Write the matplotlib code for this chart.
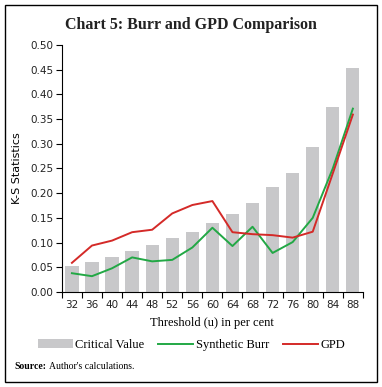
import numpy as np
from matplotlib import pyplot as plt
from matplotlib.patches import Rectangle

# Data
thresholds = [32, 36, 40, 44, 48, 52, 56, 60, 64, 68, 72, 76, 80, 84, 88]
critical = [0.052, 0.061, 0.070, 0.082, 0.096, 0.109, 0.122, 0.140, 0.157,
            0.180, 0.213, 0.241, 0.294, 0.375, 0.453]
burr = [0.038, 0.032, 0.048, 0.070, 0.062, 0.065, 0.090, 0.130, 0.093,
        0.132, 0.079, 0.101, 0.150, 0.250, 0.371]
gpd = [0.059, 0.094, 0.104, 0.121, 0.126, 0.159, 0.176, 0.184, 0.121,
       0.117, 0.115, 0.110, 0.122, 0.240, 0.359]

serif = "Liberation Serif"
sans = "DejaVu Sans"

fig = plt.figure(figsize=(3.82, 3.87), dpi=100)
ax = fig.add_axes([0.162, 0.2455, 0.788, 0.6385])

x = np.arange(len(thresholds))
bars = ax.bar(x, critical, width=0.66, color="#c8c8ca", label="Critical Value", zorder=1)
l1, = ax.plot(x, burr, color="#22a845", lw=1.4, label="Synthetic Burr", zorder=2)
l2, = ax.plot(x, gpd, color="#d42a28", lw=1.4, label="GPD", zorder=3)

ax.set_xlim(-0.5, len(thresholds) - 0.5)
ax.set_ylim(0, 0.5)
ax.set_yticks(np.arange(0, 0.501, 0.05))
ax.set_yticklabels(["%.2f" % v for v in np.arange(0, 0.501, 0.05)],
                   fontsize=7.5, family=sans, color="#222222")
ax.set_xticks(x)
ax.set_xticklabels([str(t) for t in thresholds], fontsize=7.5,
                   family=sans, color="#222222")
ax.tick_params(axis="x", length=0, pad=6)
ax.set_xticks(np.arange(-0.5, len(thresholds), 1), minor=True)
ax.tick_params(axis="x", which="minor", length=4, width=0.8)
ax.tick_params(axis="y", length=4, width=0.8, pad=2)

for s in ["top", "right"]:
    ax.spines[s].set_visible(False)
for s in ["left", "bottom"]:
    ax.spines[s].set_linewidth(0.8)

ax.set_ylabel("K-S Statistics", fontsize=8, family=sans, labelpad=6)
ax.set_xlabel("Threshold (u) in per cent", fontsize=9, family=serif, labelpad=5)

fig.text(0.5, 0.935, "Chart 5: Burr and GPD Comparison", ha="center",
         va="center", fontsize=11.5, family=serif, fontweight="bold",
         color="#222222")

ax.legend([bars, l1, l2], ["Critical Value", "Synthetic Burr", "GPD"],
          loc="upper center", bbox_to_anchor=(0.43, -0.145), ncol=3,
          frameon=False, prop={"family": serif, "size": 9},
          handlelength=2.8, handletextpad=0.2, columnspacing=1.1)

fig.text(0.037, 0.047, "Source:", fontsize=7, family=serif, fontweight="bold")
fig.text(0.037 + 0.09, 0.047, "Author's calculations.", fontsize=7, family=serif)

fig.patches.append(Rectangle((0.013, 0.013), 0.974, 0.974, transform=fig.transFigure,
                             fill=False, edgecolor="black", lw=1.0))

fig.savefig("out.png", dpi=100)
